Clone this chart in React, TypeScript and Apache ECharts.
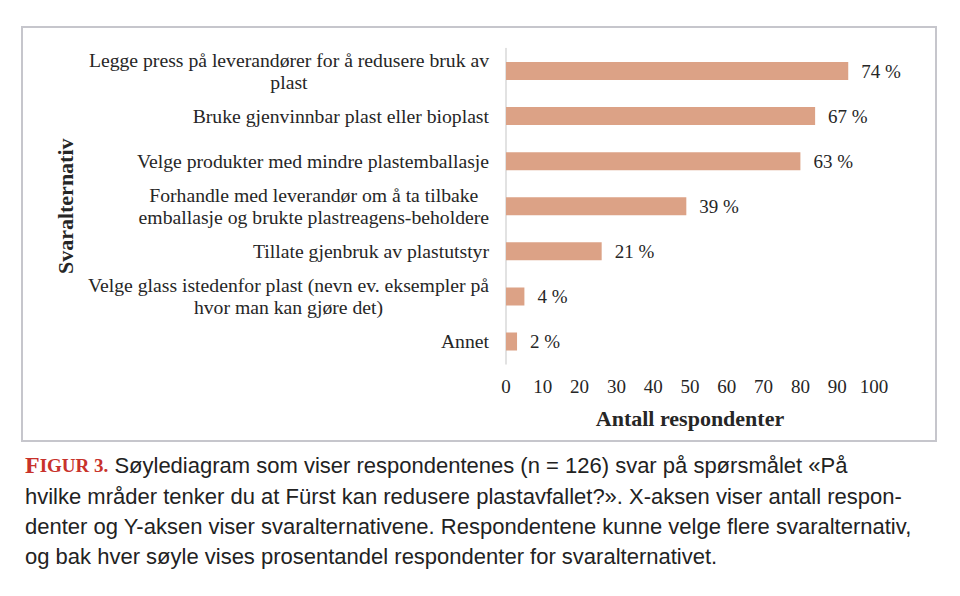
import React, { useEffect, useRef } from "react";
import * as echarts from "echarts";

const categories: string[] = [
  "Legge press på leverandører for å redusere bruk av\nplast",
  "Bruke gjenvinnbar plast eller bioplast",
  "Velge produkter med mindre plastemballasje",
  "Forhandle med leverandør om å ta tilbake\nemballasje og brukte plastreagens-beholdere",
  "Tillate gjenbruk av plastutstyr",
  "Velge glass istedenfor plast (nevn ev. eksempler på\nhvor man kan gjøre det)",
  "Annet",
];
const counts: number[] = [93, 84, 80, 49, 26, 5, 3];
const percentLabels: string[] = ["74 %", "67 %", "63 %", "39 %", "21 %", "4 %", "2 %"];
const xTicks: number[] = [0, 10, 20, 30, 40, 50, 60, 70, 80, 90, 100];

const captionLines: string[] = [
  "Søylediagram som viser respondentenes (n = 126) svar på spørsmålet «På",
  "hvilke mråder tenker du at Fürst kan redusere plastavfallet?». X-aksen viser antall respon-",
  "denter og Y-aksen viser svaralternativene. Respondentene kunne velge flere svaralternativ,",
  "og bak hver søyle vises prosentandel respondenter for svaralternativet.",
];

const SERIF = "'Liberation Serif', 'Times New Roman', serif";
const SANS = "'Liberation Sans', Arial, sans-serif";
const TEXT = "#262626";
const RED = "#c8322b";

export default function App() {
  const ref = useRef<HTMLDivElement>(null);
  useEffect(() => {
    if (!ref.current) return;
    const chart = echarts.init(ref.current, null, { renderer: "svg" });
    const option: any = {
      animation: false,
      backgroundColor: "#ffffff",
      grid: { left: 506, right: 86, top: 48.5, bottom: 232, containLabel: false },
      xAxis: {
        type: "value",
        min: xTicks[0],
        max: xTicks[xTicks.length - 1],
        interval: 10,
        axisLine: { show: false },
        axisTick: { show: false },
        splitLine: { show: false },
        axisLabel: { margin: 13, color: TEXT, fontFamily: SERIF, fontSize: 19 },
        name: "Antall respondenter",
        nameLocation: "middle",
        nameGap: 43,
        nameTextStyle: { fontFamily: SERIF, fontSize: 22, fontWeight: "bold", color: TEXT },
      },
      yAxis: {
        type: "category",
        inverse: true,
        data: categories,
        axisLine: { show: true, lineStyle: { color: "#d9d9d9", width: 1.5 } },
        axisTick: { show: false },
        axisLabel: {
          margin: 17,
          color: TEXT,
          fontFamily: SERIF,
          fontSize: 19.7,
          lineHeight: 22,
          formatter: (v: string) =>
            v
              .split("\n")
              .map((l) => `{c|${l}}`)
              .join("\n"),
          rich: {
            c: { align: "center", fontFamily: SERIF, fontSize: 19.7, lineHeight: 22, color: TEXT },
          },
        },
        name: "Svaralternativ",
        nameLocation: "middle",
        nameGap: 430,
        nameTextStyle: { fontFamily: SERIF, fontSize: 22, fontWeight: "bold", color: TEXT },
      },
      series: [
        {
          type: "bar",
          data: counts,
          barCategoryGap: "60%",
          itemStyle: { color: "#dca286" },
          label: {
            show: true,
            position: "right",
            distance: 13,
            fontFamily: SERIF,
            fontSize: 19,
            color: TEXT,
            formatter: (p: any) => percentLabels[p.dataIndex],
          },
        },
      ],
      graphic: [
        {
          type: "rect",
          shape: { x: 22, y: 27, width: 914, height: 414 },
          style: { fill: "none", stroke: "#c6c6cc", lineWidth: 2 },
          z: -1,
        },
        {
          type: "text",
          x: 25,
          y: 465,
          style: {
            text: `{r|F}{s|IGUR 3.} ${captionLines[0]}`,
            fontFamily: SANS,
            fontSize: 22,
            fill: "#222222",
            verticalAlign: "middle",
            rich: {
              r: { fontFamily: SERIF, fontSize: 24, fontWeight: "bold", fill: RED },
              s: { fontFamily: SERIF, fontSize: 19, fontWeight: "bold", fill: RED },
            },
          },
        },
        ...captionLines.slice(1).map((line, i) => ({
          type: "text",
          x: 25,
          y: 496 + i * 30,
          style: {
            text: line,
            fontFamily: SANS,
            fontSize: 22,
            fill: "#222222",
            verticalAlign: "middle",
          },
        })),
      ],
    };
    chart.setOption(option);
    return () => chart.dispose();
  }, []);
  return (
    <div
      ref={ref}
      style={{ position: "fixed", left: 0, top: 0, width: 960, height: 596, background: "#fff" }}
    />
  );
}
